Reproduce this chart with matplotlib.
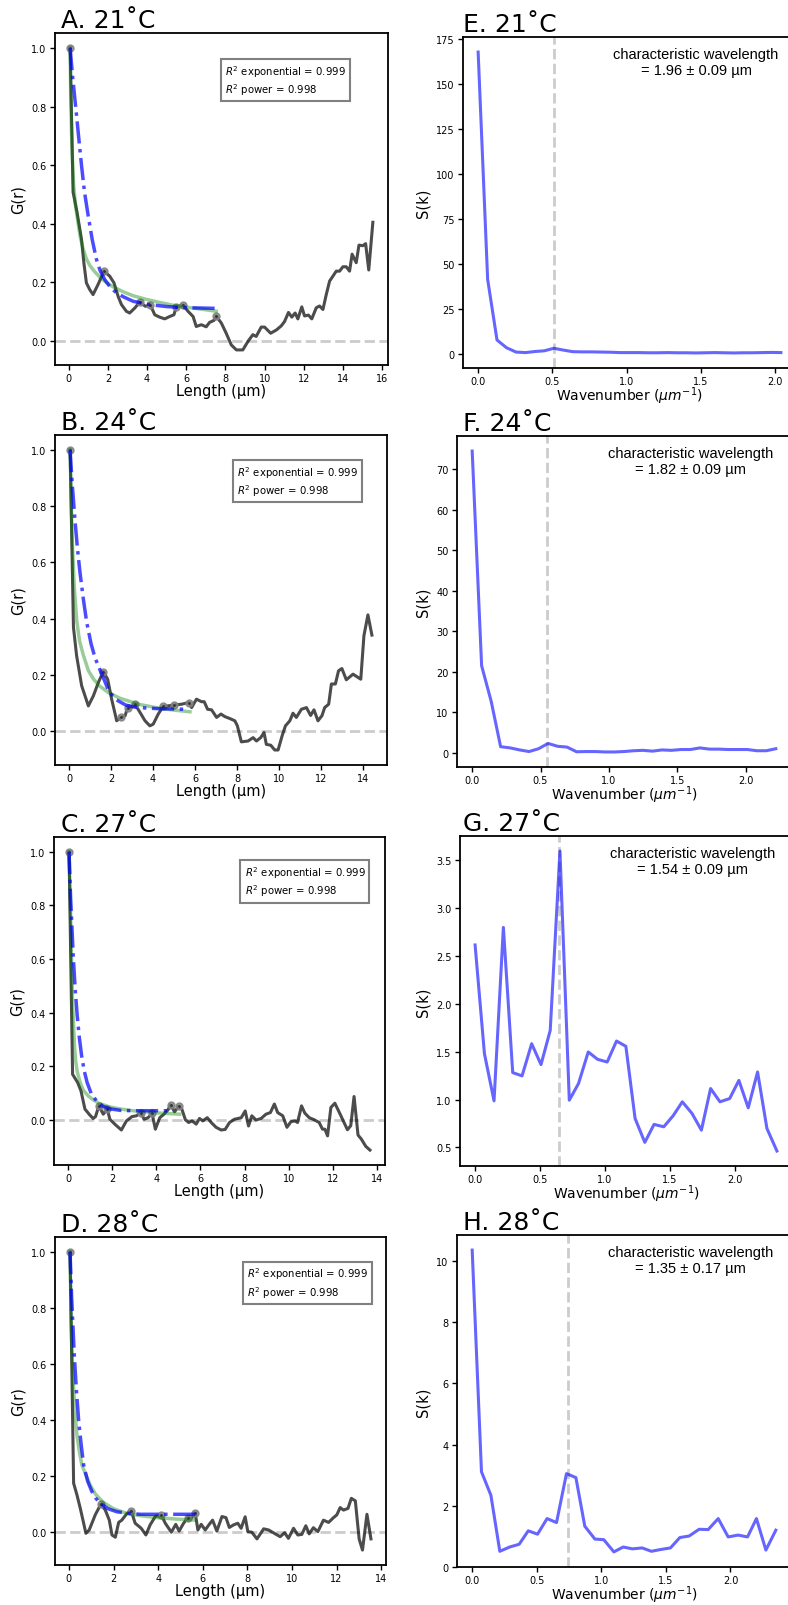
import matplotlib
matplotlib.use('Agg')
import matplotlib.pyplot as plt
from matplotlib.ticker import MultipleLocator

# ---- G(r) data, 21 C ----
r_21 = [0.07, 0.22, 0.42, 0.65, 0.77, 0.90, 1.07, 1.24, 1.50, 1.80, 2.09, 2.31, 2.52, 2.69, 2.94, 3.11,
        3.37, 3.62, 3.91, 4.17, 4.39, 4.64, 4.90, 5.15, 5.37, 5.49, 5.83, 6.09, 6.35, 6.51, 6.77, 7.02,
        7.19, 7.42, 7.53, 7.79, 8.04, 8.30, 8.56, 8.89, 9.15, 9.40, 9.57, 9.83, 10.00, 10.31, 10.60,
        10.85, 11.02, 11.22, 11.39, 11.56, 11.70, 11.90, 12.04, 12.24, 12.41, 12.64, 12.81, 12.98,
        13.15, 13.32, 13.66, 13.83, 14.00, 14.17, 14.34, 14.47, 14.68, 14.82, 15.02, 15.16, 15.32, 15.53]
g_21 = [1.0, 0.508, 0.44, 0.347, 0.267, 0.198, 0.175, 0.158, 0.193, 0.238, 0.221, 0.198, 0.152, 0.124,
        0.101, 0.095, 0.112, 0.132, 0.118, 0.122, 0.089, 0.081, 0.075, 0.083, 0.089, 0.115, 0.122,
        0.101, 0.083, 0.049, 0.055, 0.048, 0.063, 0.070, 0.084, 0.061, 0.026, -0.014, -0.031, -0.031,
        -0.002, 0.021, 0.015, 0.047, 0.047, 0.026, 0.037, 0.051, 0.066, 0.097, 0.081, 0.095, 0.075,
        0.116, 0.085, 0.088, 0.075, 0.113, 0.119, 0.107, 0.158, 0.204, 0.238, 0.238, 0.253, 0.253,
        0.238, 0.296, 0.267, 0.327, 0.325, 0.332, 0.242, 0.405]
peak_r_21 = [0.07, 1.80, 3.62, 4.17, 5.49, 5.83, 7.53]
peak_g_21 = [1.0, 0.238, 0.132, 0.122, 0.115, 0.122, 0.084]
exp_r_21 = [0.07, 0.2, 0.36, 0.5, 0.65, 0.8, 0.99, 1.2, 1.41, 1.6, 1.83, 2.1, 2.43, 2.8, 3.29, 4.1, 5.0, 6.0, 7.53]
exp_g_21 = [1.0, 0.90, 0.795, 0.70, 0.60, 0.51, 0.428, 0.345, 0.279, 0.24, 0.21, 0.185, 0.164, 0.15,
            0.135, 0.124, 0.117, 0.113, 0.111]
pow_r_21 = [0.07, 0.1, 0.14, 0.2, 0.25, 0.35, 0.47, 0.6, 0.73, 0.9, 1.07, 1.3, 1.58, 1.9, 2.27, 2.8,
            3.29, 4.0, 4.65, 5.3, 6.0, 6.8, 7.53]
pow_g_21 = [1.0, 0.84, 0.714, 0.60, 0.53, 0.46, 0.405, 0.35, 0.315, 0.28, 0.258, 0.238, 0.218, 0.200,
            0.184, 0.167, 0.154, 0.141, 0.131, 0.122, 0.115, 0.108, 0.101]

# ---- G(r) data, 24 C ----
r_24 = [0.05, 0.21, 0.36, 0.60, 0.92, 1.16, 1.40, 1.63, 1.84, 2.03, 2.27, 2.47, 2.67, 2.79, 2.95, 3.14,
        3.38, 3.62, 3.85, 4.01, 4.25, 4.49, 5.01, 5.36, 5.71, 5.84, 6.07, 6.31, 6.44, 6.60, 6.79, 7.03,
        7.24, 7.42, 7.66, 7.90, 8.02, 8.21, 8.53, 8.77, 8.93, 9.13, 9.29, 9.40, 9.61, 9.80, 9.96, 10.15,
        10.31, 10.52, 10.67, 10.83, 11.07, 11.31, 11.51, 11.67, 11.86, 12.05, 12.18, 12.37, 12.50,
        12.69, 12.84, 13.00, 13.21, 13.53, 13.90, 14.05, 14.24, 14.43]
g_24 = [1.0, 0.369, 0.268, 0.161, 0.089, 0.125, 0.173, 0.211, 0.184, 0.113, 0.036, 0.048, 0.054, 0.083,
        0.083, 0.095, 0.066, 0.036, 0.018, 0.024, 0.060, 0.087, 0.092, 0.095, 0.101, 0.083, 0.113,
        0.104, 0.104, 0.077, 0.075, 0.048, 0.060, 0.051, 0.044, 0.036, 0.018, -0.039, -0.036, -0.024,
        -0.036, -0.024, -0.006, -0.048, -0.051, -0.068, -0.068, -0.018, 0.018, 0.036, 0.063, 0.048,
        0.077, 0.083, 0.055, 0.075, 0.036, 0.054, 0.083, 0.095, 0.167, 0.167, 0.214, 0.222, 0.182,
        0.202, 0.184, 0.339, 0.413, 0.341]
peak_r_24 = [0.05, 1.63, 2.47, 2.79, 3.14, 4.49, 5.01, 5.71]
peak_g_24 = [1.0, 0.211, 0.048, 0.083, 0.095, 0.087, 0.092, 0.101]
exp_r_24 = [0.05, 0.15, 0.29, 0.4, 0.52, 0.68, 0.84, 1.05, 1.24, 1.43, 1.63, 1.9, 2.27, 2.7, 3.06, 3.7,
            4.33, 5.0, 5.52]
exp_g_24 = [1.0, 0.88, 0.743, 0.65, 0.565, 0.47, 0.387, 0.31, 0.26, 0.225, 0.19, 0.14, 0.11, 0.092,
            0.086, 0.081, 0.079, 0.078, 0.077]
pow_r_24 = [0.05, 0.1, 0.15, 0.25, 0.37, 0.5, 0.68, 0.92, 1.16, 1.45, 1.87, 2.4, 3.3, 4.2, 5.0, 5.76]
pow_g_24 = [1.0, 0.84, 0.68, 0.51, 0.39, 0.32, 0.27, 0.215, 0.185, 0.16, 0.137, 0.117, 0.095, 0.082,
            0.074, 0.068]

# ---- G(r) data, 27 C ----
r_27 = [0.05, 0.21, 0.44, 0.59, 0.77, 0.99, 1.14, 1.25, 1.40, 1.60, 1.78, 1.90, 2.12, 2.42, 2.65, 2.90,
        3.10, 3.30, 3.45, 3.63, 3.81, 3.96, 4.16, 4.35, 4.53, 4.65, 4.83, 5.01, 5.16, 5.32, 5.47, 5.62,
        5.81, 5.96, 6.11, 6.31, 6.49, 6.71, 6.94, 7.12, 7.32, 7.54, 7.85, 8.03, 8.18, 8.33, 8.52, 8.75,
        8.97, 9.17, 9.35, 9.50, 9.73, 9.92, 10.10, 10.28, 10.40, 10.58, 10.73, 10.93, 11.16, 11.38,
        11.53, 11.64, 11.76, 11.91, 12.09, 12.33, 12.66, 12.81, 12.96, 13.14, 13.29, 13.49, 13.68]
g_27 = [1.0, 0.170, 0.139, 0.108, 0.040, 0.018, 0.005, 0.012, 0.052, 0.021, 0.040, 0.002, -0.016,
        -0.038, -0.004, 0.012, 0.015, 0.027, 0.002, 0.008, 0.024, -0.035, 0.008, 0.021, 0.037, 0.056,
        0.030, 0.050, 0.040, 0.0, -0.010, -0.004, -0.016, 0.005, -0.004, 0.008, -0.010, -0.028, -0.038,
        -0.036, -0.010, 0.002, 0.008, 0.033, -0.023, 0.015, -0.001, 0.005, 0.021, 0.027, 0.059, 0.027,
        0.015, -0.028, -0.007, -0.004, -0.010, 0.052, 0.025, 0.008, 0.0, -0.010, -0.035, -0.035,
        -0.060, 0.046, 0.062, 0.021, -0.037, -0.022, 0.087, -0.057, -0.072, -0.099, -0.113]
peak_r_27 = [0.05, 1.40, 1.78, 3.30, 3.81, 4.65, 5.01]
peak_g_27 = [1.0, 0.052, 0.040, 0.027, 0.024, 0.056, 0.050]
exp_r_27 = [0.05, 0.12, 0.24, 0.33, 0.42, 0.52, 0.62, 0.74, 0.87, 1.05, 1.29, 1.55, 1.89, 2.4, 2.95,
            3.7, 4.75]
exp_g_27 = [1.0, 0.83, 0.611, 0.486, 0.388, 0.304, 0.239, 0.182, 0.139, 0.099, 0.071, 0.052, 0.041,
            0.035, 0.034, 0.034, 0.034]
pow_r_27 = [0.05, 0.1, 0.15, 0.2, 0.25, 0.3, 0.35, 0.42, 0.55, 0.7, 0.92, 1.14, 1.4, 1.89, 2.4, 2.95,
            4.0, 5.06]
pow_g_27 = [1.0, 0.85, 0.65, 0.46, 0.36, 0.27, 0.22, 0.18, 0.14, 0.11, 0.089, 0.075, 0.062, 0.048,
            0.040, 0.034, 0.026, 0.021]

# ---- G(r) data, 28 C ----
r_28 = [0.05, 0.21, 0.36, 0.51, 0.66, 0.76, 0.91, 1.06, 1.18, 1.43, 1.63, 1.81, 1.93, 2.08, 2.23, 2.37,
        2.60, 2.79, 2.97, 3.24, 3.45, 3.64, 3.87, 4.14, 4.32, 4.59, 4.79, 4.94, 5.14, 5.33, 5.51, 5.66,
        5.78, 5.93, 6.11, 6.29, 6.44, 6.63, 6.86, 7.04, 7.19, 7.38, 7.57, 7.72, 7.90, 8.02, 8.20, 8.43,
        8.73, 8.95, 9.25, 9.47, 9.67, 9.84, 10.07, 10.26, 10.44, 10.62, 10.77, 10.96, 11.16, 11.41,
        11.64, 11.86, 12.01, 12.16, 12.31, 12.51, 12.66, 12.84, 13.01, 13.16, 13.36, 13.54]
g_28 = [1.0, 0.173, 0.131, 0.083, 0.030, -0.006, 0.006, 0.036, 0.060, 0.098, 0.077, 0.041, -0.012,
        -0.020, 0.033, 0.041, 0.065, 0.074, 0.030, 0.012, -0.012, 0.024, 0.054, 0.059, 0.030, -0.002,
        0.026, 0.002, 0.030, 0.050, 0.050, 0.068, 0.006, 0.026, 0.006, 0.026, 0.041, 0.002, 0.054,
        0.050, 0.015, 0.024, 0.030, 0.012, 0.053, 0.0, -0.002, -0.026, 0.010, 0.006, -0.008, -0.018,
        -0.004, -0.024, 0.012, -0.012, -0.010, 0.021, -0.008, 0.014, 0.0, 0.041, 0.033, 0.050, 0.060,
        0.086, 0.077, 0.083, 0.119, 0.110, -0.026, -0.066, 0.062, -0.026]
peak_r_28 = [0.05, 1.43, 2.79, 4.14, 5.33, 5.66]
peak_g_28 = [1.0, 0.098, 0.074, 0.059, 0.050, 0.068]
exp_r_28 = [0.05, 0.12, 0.24, 0.34, 0.44, 0.55, 0.66, 0.84, 1.03, 1.2, 1.4, 1.75, 2.15, 2.7, 3.2, 4.39, 5.66]
exp_g_28 = [1.0, 0.84, 0.631, 0.50, 0.393, 0.31, 0.238, 0.18, 0.143, 0.12, 0.101, 0.082, 0.071, 0.065,
            0.062, 0.062, 0.062]
pow_r_28 = [0.05, 0.1, 0.15, 0.21, 0.28, 0.36, 0.46, 0.58, 0.75, 0.96, 1.2, 1.55, 2.0, 2.6, 3.2, 3.95,
            4.8, 5.66]
pow_g_28 = [1.0, 0.75, 0.62, 0.512, 0.42, 0.345, 0.29, 0.238, 0.205, 0.165, 0.133, 0.104, 0.082, 0.065,
            0.057, 0.050, 0.045, 0.041]

# ---- S(k) data ----
k_21 = [0.0, 0.064, 0.127, 0.191, 0.255, 0.319, 0.382, 0.446, 0.510, 0.573, 0.637, 0.701, 0.764, 0.828,
        0.892, 0.956, 1.019, 1.083, 1.147, 1.210, 1.274, 1.338, 1.402, 1.465, 1.529, 1.593, 1.656,
        1.720, 1.784, 1.847, 1.911, 1.975, 2.038]
s_21 = [167.6, 41.3, 7.6, 3.3, 0.9, 0.6, 1.2, 1.6, 3.0, 2.0, 1.1, 1.0, 1.0, 0.9, 0.8, 0.6, 0.6, 0.6,
        0.5, 0.5, 0.6, 0.5, 0.5, 0.4, 0.5, 0.6, 0.5, 0.4, 0.5, 0.5, 0.6, 0.7, 0.6]
k_24 = [0.0, 0.069, 0.139, 0.208, 0.278, 0.347, 0.416, 0.486, 0.555, 0.625, 0.694, 0.763, 0.833, 0.902,
        0.972, 1.041, 1.110, 1.180, 1.249, 1.319, 1.388, 1.457, 1.527, 1.596, 1.666, 1.735, 1.804,
        1.874, 1.943, 2.013, 2.082, 2.151, 2.221]
s_24 = [74.5, 21.5, 12.7, 1.5, 1.2, 0.7, 0.3, 1.0, 2.3, 1.6, 1.4, 0.25, 0.3, 0.3, 0.2, 0.2, 0.3, 0.5,
        0.6, 0.4, 0.7, 0.6, 0.8, 0.8, 1.2, 0.9, 0.9, 0.8, 0.8, 0.8, 0.5, 0.5, 1.0]
k_27 = [0.0, 0.072, 0.146, 0.218, 0.290, 0.362, 0.436, 0.508, 0.579, 0.654, 0.726, 0.797, 0.872, 0.944,
        1.018, 1.090, 1.162, 1.233, 1.308, 1.379, 1.454, 1.526, 1.597, 1.672, 1.744, 1.815, 1.887,
        1.962, 2.033, 2.105, 2.177, 2.249, 2.326]
s_27 = [2.615, 1.479, 0.986, 2.799, 1.281, 1.247, 1.583, 1.365, 1.722, 3.597, 0.993, 1.167, 1.497,
        1.420, 1.392, 1.611, 1.556, 0.802, 0.552, 0.740, 0.715, 0.830, 0.976, 0.854, 0.680, 1.115,
        0.976, 1.010, 1.200, 0.913, 1.288, 0.698, 0.462]
k_28 = [0.0, 0.072, 0.145, 0.214, 0.290, 0.364, 0.434, 0.506, 0.580, 0.653, 0.730, 0.803, 0.872, 0.950,
        1.019, 1.097, 1.169, 1.241, 1.316, 1.388, 1.461, 1.535, 1.608, 1.680, 1.757, 1.827, 1.905,
        1.982, 2.059, 2.132, 2.201, 2.274, 2.351]
s_28 = [10.36, 3.11, 2.34, 0.51, 0.65, 0.74, 1.18, 1.07, 1.58, 1.45, 3.05, 2.92, 1.33, 0.91, 0.89, 0.49,
        0.65, 0.59, 0.62, 0.51, 0.57, 0.62, 0.96, 1.01, 1.23, 1.22, 1.58, 0.98, 1.04, 0.98, 1.58, 0.55, 1.2]

temps = [21, 24, 27, 28]
wavelengths = [1.96, 1.82, 1.54, 1.35]
wavelength_errs = [0.09, 0.09, 0.09, 0.17]
left_letters = ['A', 'B', 'C', 'D']
right_letters = ['E', 'F', 'G', 'H']
r2_exponential = 0.999
r2_power = 0.998

corr_sets = [
    (r_21, g_21, peak_r_21, peak_g_21, exp_r_21, exp_g_21, pow_r_21, pow_g_21),
    (r_24, g_24, peak_r_24, peak_g_24, exp_r_24, exp_g_24, pow_r_24, pow_g_24),
    (r_27, g_27, peak_r_27, peak_g_27, exp_r_27, exp_g_27, pow_r_27, pow_g_27),
    (r_28, g_28, peak_r_28, peak_g_28, exp_r_28, exp_g_28, pow_r_28, pow_g_28),
]
spec_sets = [(k_21, s_21), (k_24, s_24), (k_27, s_27), (k_28, s_28)]
spec_ystep = [25, 10, 0.5, 2]

# axes boxes in pixels: left, top, right, bottom (figure is 788 x 1606)
W, H = 788, 1606
left_boxes = [(55, 34, 388, 366), (55, 436, 387, 766), (54, 838, 385, 1166), (55, 1238, 386, 1566)]
right_boxes = [(463, 38, 796, 369), (457, 437, 791, 768), (460, 837, 792, 1167), (457, 1236, 791, 1568)]
# horizontal shift of each panel title from the axes' left edge, in pixels
left_title_shift = [6, 6, 7, 6]
right_title_shift = [0, 6, 3, 6]


def box_to_rect(b):
    l, t, r, btm = b
    return [l / W, 1 - btm / H, (r - l) / W, (btm - t) / H]


def style_axes(ax):
    for sp in ax.spines.values():
        sp.set_linewidth(1.3)
    ax.tick_params(labelsize=7, width=1.0, length=3.5, pad=2.5)


def set_panel_title(ax, text, box, shift):
    ax.set_title(text, loc='left', fontsize=18, pad=4, x=shift / (box[2] - box[0]))


fig = plt.figure(figsize=(W / 100, H / 100), dpi=100)

for i in range(4):
    r, g, pr, pg, er, eg, wr, wg = corr_sets[i]
    ax = fig.add_axes(box_to_rect(left_boxes[i]))
    ax.axhline(0, color='#cccccc', ls='--', lw=2, zorder=1)
    ax.plot(r, g, color='k', alpha=0.7, lw=2.2, zorder=2)
    ax.plot(pr, pg, 'o', color='gray', ms=5, alpha=0.85, zorder=3)
    ax.plot(pr, pg, '.', color='#333333', ms=2, zorder=3)
    ax.plot(wr, wg, color='green', alpha=0.4, lw=2.5, zorder=4)
    ax.plot(er, eg, color='blue', alpha=0.7, lw=2.5, ls='-.', zorder=5)
    ax.text(8, 0.89, '$R^2$ exponential = %.3f\n$R^2$ power = %.3f' % (r2_exponential, r2_power),
            fontsize=7.3, ha='left', va='center', zorder=6,
            bbox=dict(facecolor='white', edgecolor='gray', linewidth=1.5, pad=3))
    ax.xaxis.set_major_locator(MultipleLocator(2))
    ax.yaxis.set_major_locator(MultipleLocator(0.2))
    ax.set_xlabel('Length (µm)', fontsize=10.5, labelpad=0)
    ax.set_ylabel('G(r)', fontsize=10.5)
    set_panel_title(ax, '%s. %d\u02daC' % (left_letters[i], temps[i]), left_boxes[i], left_title_shift[i])
    style_axes(ax)

    k, s = spec_sets[i]
    ax2 = fig.add_axes(box_to_rect(right_boxes[i]))
    ax2.axvline(1 / wavelengths[i], color='#cccccc', ls='--', lw=2, zorder=1)
    ax2.plot(k, s, color='blue', alpha=0.6, lw=2.2, zorder=2)
    ax2.text(0.70, 0.925, 'characteristic wavelength\n= %.2f ± %.2f µm' % (wavelengths[i], wavelength_errs[i]),
             transform=ax2.transAxes, ha='center', va='center', fontsize=10.5,
             family=['Liberation Sans', 'DejaVu Sans'])
    ax2.xaxis.set_major_locator(MultipleLocator(0.5))
    ax2.yaxis.set_major_locator(MultipleLocator(spec_ystep[i]))
    ax2.set_xlabel('Wavenumber ($\\mu m^{-1}$)', fontsize=10, labelpad=-1.5)
    ax2.set_ylabel('S(k)', fontsize=10.5)
    set_panel_title(ax2, '%s. %d\u02daC' % (right_letters[i], temps[i]), right_boxes[i], right_title_shift[i])
    style_axes(ax2)

fig.savefig('out.png', dpi=100)
